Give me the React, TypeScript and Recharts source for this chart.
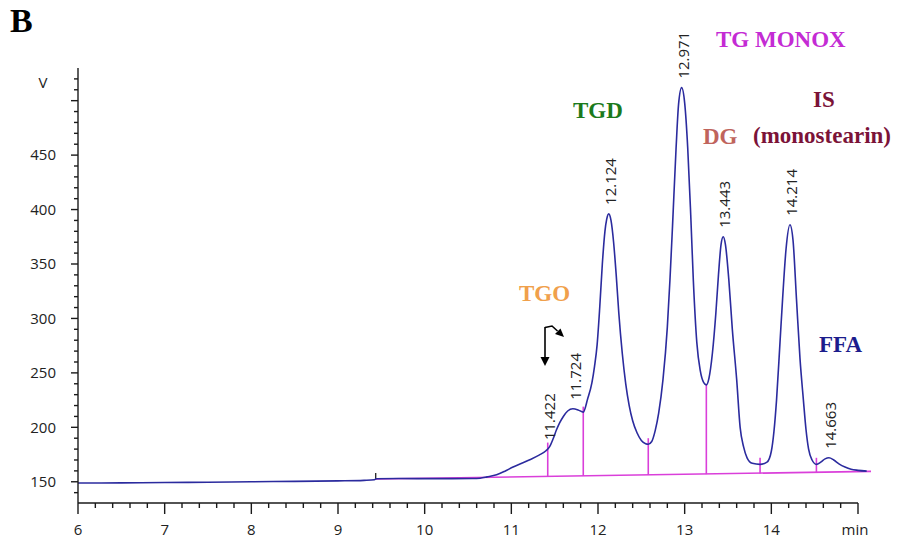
import React from 'react';
import { ComposedChart, Line, Scatter, XAxis, YAxis, ReferenceLine } from 'recharts';

// Chromatogram trace (retention time in min, signal in V)
const timeMin = [
  6.0, 6.5, 7.0, 7.5, 8.0, 8.5, 9.0, 9.3, 9.42, 9.44, 9.7, 10.0, 10.3, 10.55, 10.64, 10.72, 10.83, 10.92,
  11.02, 11.12, 11.22, 11.32, 11.4, 11.44, 11.48, 11.52, 11.56, 11.6, 11.65, 11.71, 11.77, 11.83, 11.88,
  11.93, 11.96, 11.99, 12.02, 12.05, 12.08, 12.1, 12.124, 12.15, 12.18, 12.21, 12.24, 12.28, 12.32, 12.36,
  12.4, 12.45, 12.5, 12.55, 12.58, 12.62, 12.66, 12.7, 12.75, 12.8, 12.83, 12.86, 12.9, 12.93, 12.965,
  13.0, 13.035, 13.07, 13.1, 13.14, 13.18, 13.22, 13.25, 13.28, 13.32, 13.36, 13.39, 13.42, 13.445, 13.47,
  13.51, 13.55, 13.6, 13.64, 13.68, 13.72, 13.78, 13.87, 13.95, 14.0, 14.03, 14.06, 14.1, 14.13, 14.17,
  14.215, 14.25, 14.29, 14.33, 14.37, 14.4, 14.43, 14.47, 14.52, 14.57, 14.62, 14.665, 14.72, 14.78,
  14.85, 14.92, 15.0, 15.1,
];
const signalV = [
  148.8, 149.0, 149.3, 149.6, 150.0, 150.4, 150.8, 151.3, 151.8, 152.8, 153.0, 152.9, 152.9, 153.0, 153.3, 154.5, 156.5, 159.5,
  163.5, 167, 170.5, 174.5, 178.5, 182, 189, 197.5, 204.5, 210, 215, 217, 216, 214, 226,
  241, 256, 276, 310, 350, 380, 391, 396, 390, 370, 340, 305, 268, 240, 220,
  206, 195, 188, 185, 184.5, 187, 197, 213, 244, 292, 335, 385, 455, 497, 512,
  498, 457, 395, 335, 278, 252, 241, 239, 245, 268, 305, 340, 368, 375, 368,
  335, 290, 244, 200, 182, 172, 167, 166, 168, 178, 196, 225, 278, 318, 364,
  386, 372, 318, 264, 225, 198, 180, 170, 166, 168, 171, 172, 170, 166.5,
  163.5, 161.5, 160.5, 159.8,
];

// Integration baseline (magenta)
const baselineT = [9.43, 15.15];
const baselineV = [152.5, 159.5];

// Drop lines (magenta verticals)
const dropT = [11.42, 11.83, 12.58, 13.25, 13.87, 14.52];
const dropBottom = [155.0, 155.4, 156.2, 157.0, 157.7, 158.5];
const dropTop = [186, 219, 190, 239, 172, 172];

// Event mark at 9.43 min
const markT = 9.435;
const markV = [152, 158];

// Peak labels
const peakT = [11.422, 11.724, 12.124, 12.971, 13.443, 14.214, 14.663];
const peakV = [180, 217, 396, 512, 375, 386, 172];
const peakLabel = ['11.422', '11.724', '12.124', '12.971', '13.443', '14.214', '14.663'];

// Axis ticks
const xTickValues = Array.from({ length: 46 }, (_, i) => Math.round((6 + i * 0.2) * 10) / 10);
const xTickLabels = [6, 7, 8, 9, 10, 11, 12, 13, 14];
const yTickValues = Array.from({ length: 39 }, (_, i) => 140 + i * 10);
const yTickLabels = [150, 200, 250, 300, 350, 400, 450];

const traceData = timeMin.map((t, i) => ({ t, v: signalV[i] }));
const peakData = peakT.map((t, i) => ({ t, v: peakV[i], label: peakLabel[i] }));

const AXIS = '#1a1a1a';
const TICK_FONT = '"Open Sans", sans-serif';
const SERIF = '"Liberation Serif", "Times New Roman", serif';

const XTick = (props: any) => {
  const { x, y, payload } = props;
  const val = payload.value as number;
  const major = Math.abs(val - Math.round(val)) < 1e-6;
  return (
    <g>
      <line x1={x} x2={x} y1={y} y2={y + (major ? 11 : 5)} stroke={AXIS} strokeWidth={1.4} />
      {major && xTickLabels.includes(Math.round(val)) && (
        <text x={x} y={y + 32} textAnchor="middle" fontFamily={TICK_FONT} fontSize={15} fill="#222">
          {Math.round(val)}
        </text>
      )}
    </g>
  );
};

const YTick = (props: any) => {
  const { x, y, payload } = props;
  const val = payload.value as number;
  const major = val % 50 === 0;
  return (
    <g>
      <line x1={x - (major ? 7 : 4)} x2={x} y1={y} y2={y} stroke={AXIS} strokeWidth={1.4} />
      {yTickLabels.includes(val) && (
        <text x={x - 22} y={y} dy="0.35em" textAnchor="end" fontFamily={TICK_FONT} fontSize={15} fill="#222">
          {val}
        </text>
      )}
    </g>
  );
};

const PeakLabel = (props: any) => {
  const { cx, cy, payload } = props;
  const px = cx + 1;
  const py = cy - 9;
  return (
    <text
      x={px}
      y={py}
      transform={`rotate(-90 ${px} ${py})`}
      dominantBaseline="central"
      fontFamily={TICK_FONT}
      fontSize={15}
      fill="#222"
    >
      {payload.label}
    </text>
  );
};

const annotations = [
  { text: 'TGO', color: '#F0A04B' },
  { text: 'TGD', color: '#1B7A1B' },
  { text: 'TG MONOX', color: '#C42BD4' },
  { text: 'DG', color: '#C0645C' },
  { text: 'IS', color: '#7B1338' },
  { text: '(monostearin)', color: '#7B1338' },
  { text: 'FFA', color: '#1C1C8C' },
];
const annotationPos = [
  [519, 301],
  [573, 118],
  [716, 47],
  [703, 144],
  [813, 107],
  [753, 143],
  [819, 352],
];

export default function App() {
  return (
    <div style={{ position: 'absolute', left: 0, top: 0, width: 898, height: 544, background: '#fff' }}>
      <ComposedChart
        width={898}
        height={544}
        margin={{ top: 68, right: 27, bottom: 0, left: 0 }}
      >
        <XAxis
          type="number"
          dataKey="t"
          domain={[6, 15.15]}
          ticks={xTickValues}
          interval={0}
          axisLine={false}
          tickLine={false}
          tickSize={0}
          tickMargin={0}
          tick={<XTick />}
          height={41}
        />
        <YAxis
          type="number"
          dataKey="v"
          domain={[130.5, 530]}
          ticks={yTickValues}
          interval={0}
          axisLine={{ stroke: AXIS, strokeWidth: 1.4 }}
          tickLine={false}
          tickSize={0}
          tickMargin={0}
          tick={<YTick />}
          width={78}
        />
        <ReferenceLine
          segment={[{ x: 6, y: 130.5 }, { x: 15, y: 130.5 }]}
          stroke={AXIS}
          strokeWidth={1.4}
        />
        <ReferenceLine
          segment={[{ x: baselineT[0], y: baselineV[0] }, { x: baselineT[1], y: baselineV[1] }]}
          stroke="#DA3FDA"
          strokeWidth={1.6}
        />
        {dropT.map((t, i) => (
          <ReferenceLine
            key={'d' + i}
            segment={[{ x: t, y: dropBottom[i] }, { x: t, y: dropTop[i] }]}
            stroke="#DA3FDA"
            strokeWidth={1.6}
          />
        ))}
        <ReferenceLine
          segment={[{ x: markT, y: markV[0] }, { x: markT, y: markV[1] }]}
          stroke="#222"
          strokeWidth={1.3}
        />
        <Line
          data={traceData}
          dataKey="v"
          type="monotone"
          stroke="#2B2B9E"
          strokeWidth={1.6}
          dot={false}
          activeDot={false}
          isAnimationActive={false}
        />
        <Scatter data={peakData} dataKey="v" shape={<PeakLabel />} isAnimationActive={false} />
      </ComposedChart>
      <svg
        width={898}
        height={544}
        style={{ position: 'absolute', left: 0, top: 0, pointerEvents: 'none' }}
      >
        <text x={10} y={32} fontFamily={SERIF} fontWeight="bold" fontSize={34} fill="#000">B</text>
        <text x={43} y={83} dy="0.35em" textAnchor="middle" fontFamily={TICK_FONT} fontSize={15} fill="#222">V</text>
        <text x={855} y={535} textAnchor="middle" fontFamily={TICK_FONT} fontSize={15} fill="#222">min</text>
        {annotations.map((a, i) => (
          <text
            key={a.text}
            x={annotationPos[i][0]}
            y={annotationPos[i][1]}
            fontFamily={SERIF}
            fontWeight="bold"
            fontSize={23}
            fill={a.color}
          >
            {a.text}
          </text>
        ))}
        {/* arrows near TGO */}
        <line x1={545} y1={327} x2={545} y2={359} stroke="#000" strokeWidth={1.6} />
        <polygon points="540.5,357 549.5,357 545,366" fill="#000" />
        <polyline points="545,327.5 552,326 557.5,331" fill="none" stroke="#000" strokeWidth={1.6} />
        <polygon points="555,334 560.5,328.5 564,337" fill="#000" />
      </svg>
    </div>
  );
}
